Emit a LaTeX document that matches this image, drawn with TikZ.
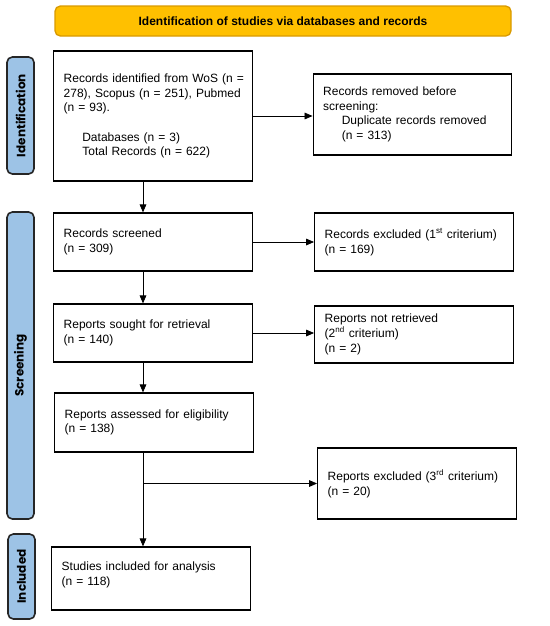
\documentclass[tikz,border=0pt]{standalone}
\usepackage{fontspec}
\setmainfont{Liberation Sans}
\newfontfamily\phasefont{Poppins}
\usepackage{xcolor}
\usetikzlibrary{arrows.meta}

\definecolor{bannergold}{HTML}{FFC000}
\definecolor{bannerrim}{HTML}{D99A00}
\definecolor{phaseblue}{HTML}{9DC3E6}

\tikzset{
    >={Triangle[length=6pt,width=5pt]},
    stagebox/.style={draw, line width=0.9pt, fill=white,
        text width=134pt, inner xsep=7.5pt, align=left,
        font=\fontsize{9}{11}\selectfont},
    phase/.style={draw=black!85, line width=1.2pt, fill=phaseblue,
        rounded corners=4pt, rotate=90, minimum height=20.25pt,
        font=\phasefont\fontsize{9}{11}\selectfont\bfseries},
    flow/.style={->, line width=0.6pt}
}

\begin{document}
\begin{tikzpicture}[x=0.75pt, y=-0.75pt]

        \useasboundingbox (0,0) rectangle (550,626);

        % Banner

        \node [draw=bannerrim,
        line width=1pt,
        fill=bannergold,
        rounded corners=4pt,
        minimum width=342pt,
        minimum height=22.5pt,
        font=\fontsize{9}{11}\selectfont\bfseries
            ] (banner) at (283,21) {Identification of studies via databases and records};

        % Phases

        \node [phase, minimum width=87.75pt] (identlbl) at (20.5,115.5) {Identification};
        \node [phase, minimum width=230.25pt] (screenlbl) at (20.5,365.5) {Screening};
        \node [phase, minimum width=63.75pt] (incllbl) at (21.5,576.5) {Included};

        % Main column

        \node [stagebox, minimum height=97.5pt] (records) at (153,116)
            {\mbox{Records identified from WoS (n =}\\ 278), Scopus (n = 251), Pubmed\\ (n = 93).\\[11pt]
             \hspace*{14pt}Databases (n = 3)\\ \hspace*{14pt}Total Records (n = 622)};

        \node [stagebox, minimum height=43.5pt] (screened) at (153,242)
            {Records screened\\ (n = 309)};

        \node [stagebox, minimum height=43.5pt] (sought) at (153,333)
            {Reports sought for retrieval\\ (n = 140)};

        \node [stagebox, minimum height=44.25pt] (assessed) at (154,422.5)
            {Reports assessed for eligibility\\ (n = 138)};

        \node [stagebox, minimum height=47.25pt] (studies) at (151,578.5)
            {Studies included for analysis\\ (n = 118)\\[-3.5pt]\mbox{}};

        % Side column

        \node [stagebox, minimum height=60.75pt] (removed) at (412.5,114.5)
            {Records removed before\\ screening:\\ \hspace*{14pt}Duplicate records removed\\ \hspace*{14pt}(n = 313)};

        \node [stagebox, minimum height=43.5pt] (excl1) at (414,242)
            {Records excluded (1\textsuperscript{st} criterium)\\ (n = 169)};

        \node [stagebox, minimum height=42.75pt] (notret) at (414,334.5)
            {Reports not retrieved\\ (2\textsuperscript{nd} criterium)\\ (n = 2)};

        \node [stagebox, minimum height=53.25pt] (excl3) at (417,483.5)
            {Reports excluded (3\textsuperscript{rd} criterium)\\ (n = 20)};

        % Connectors

        \coordinate (spine) at (143,0);

        \draw[flow] (records.south -| spine) -- (screened.north -| spine);
        \draw[flow] (screened.south -| spine) -- (sought.north -| spine);
        \draw[flow] (sought.south -| spine) -- (assessed.north -| spine);
        \draw[flow] (assessed.south -| spine) -- (studies.north -| spine);

        \draw[flow] (records.east) -- (removed.west |- records.east);
        \draw[flow] (screened.east) -- (excl1.west);
        \draw[flow] (sought.east) -- (notret.west |- sought.east);
        \draw[flow] (spine |- excl3.west) -- (excl3.west);
        \end{tikzpicture}
\end{document}
